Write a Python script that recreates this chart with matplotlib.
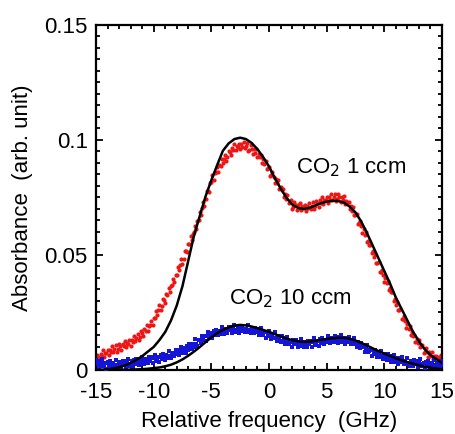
import numpy as np
import matplotlib
matplotlib.use("Agg")
import matplotlib.pyplot as plt

plt.rcParams['font.family'] = ['Liberation Sans', 'DejaVu Sans']
plt.rcParams['axes.unicode_minus'] = False

MILLI = 1e-3

# measured data, CO2 1 ccm (units of 1e-3), x = -15 .. 15 step 0.1
x_data = np.round(np.arange(-15.0, 15.0001, 0.1), 2)
red_data = [
    4.2, 6.7, 5.8, 4.2, 7.1, 6.2, 8.5, 5.7, 7.6, 7.2,
    8.6, 6.3, 8.8, 7.8, 10.3, 8.0, 9.3, 10.7, 7.7, 9.0,
    11.4, 10.4, 8.7, 11.5, 10.5, 12.8, 10.0, 11.9, 11.5, 12.9,
    10.5, 13.1, 12.2, 14.8, 12.6, 14.1, 15.7, 12.9, 14.4, 17.0,
    16.2, 14.7, 17.7, 16.9, 19.4, 16.8, 19.3, 19.5, 21.5, 19.7,
    22.7, 22.4, 25.6, 24.0, 26.1, 28.3, 25.9, 27.8, 30.8, 30.4,
    29.3, 32.9, 32.7, 35.8, 33.8, 36.5, 37.1, 39.5, 38.1, 41.5,
    41.4, 44.8, 43.4, 45.7, 48.1, 46.1, 48.4, 51.8, 51.8, 51.1,
    54.9, 54.9, 58.2, 56.4, 59.3, 59.9, 62.5, 61.3, 64.9, 65.0,
    68.6, 67.6, 70.3, 73.1, 71.5, 74.2, 77.8, 78.0, 77.5, 81.5,
    81.7, 84.8, 82.8, 85.5, 85.9, 88.1, 86.3, 89.3, 88.8, 91.8,
    90.0, 91.7, 93.5, 90.9, 92.6, 95.4, 94.7, 93.3, 96.4, 95.7,
    98.3, 95.5, 97.4, 97.0, 98.4, 96.0, 98.2, 96.9, 99.1, 96.5,
    97.6, 98.5, 95.0, 95.8, 97.7, 96.2, 93.9, 96.1, 94.5, 96.2,
    92.8, 93.9, 92.7, 93.3, 90.1, 91.7, 89.6, 91.0, 87.6, 87.9,
    88.3, 84.3, 84.6, 86.0, 84.0, 81.3, 83.1, 81.1, 82.4, 78.6,
    79.5, 78.1, 78.5, 75.1, 76.5, 74.4, 76.0, 72.8, 73.3, 73.9,
    70.1, 71.0, 73.0, 71.6, 69.5, 71.9, 70.6, 72.6, 69.5, 71.1,
    70.4, 71.7, 69.2, 71.5, 70.3, 72.6, 70.2, 71.5, 72.9, 69.9,
    71.2, 73.6, 72.6, 70.9, 73.7, 72.7, 75.0, 72.2, 74.1, 73.7,
    75.1, 72.7, 75.1, 74.0, 76.4, 74.0, 75.2, 76.4, 73.3, 74.4,
    76.6, 75.2, 73.0, 75.4, 73.9, 75.8, 72.3, 73.5, 72.4, 73.1,
    70.0, 71.4, 69.3, 70.7, 67.3, 67.6, 67.8, 63.6, 63.7, 64.9,
    62.7, 59.7, 61.2, 58.9, 59.9, 55.8, 56.3, 54.5, 54.5, 50.7,
    51.7, 49.3, 50.4, 46.7, 46.7, 46.8, 42.5, 42.5, 43.6, 41.3,
    38.3, 39.9, 37.7, 38.8, 34.8, 35.5, 33.7, 33.7, 29.9, 30.9,
    28.4, 29.6, 26.0, 26.1, 26.3, 22.1, 22.2, 23.4, 21.2, 18.3,
    19.9, 17.9, 19.2, 15.4, 16.3, 14.9, 15.4, 12.1, 13.6, 11.6,
    13.1, 9.9, 10.4, 11.0, 7.2, 7.7, 9.5, 7.9, 5.6, 7.8,
    6.2, 8.0, 4.7, 6.1, 5.2, 6.1, 3.5, 5.7, 4.4, 6.6,
    4.0,
]

# measured data, CO2 10 ccm (units of 1e-3)
blue_data = [
    4.3, 2.6, 3.8, 1.3, 3.0, 4.6, 1.6, 2.3, 3.2, 0.6,
    3.5, 1.8, 4.0, 2.5, 1.2, 2.9, 1.6, 4.4, 2.3, 1.0,
    3.3, 2.9, 1.4, 4.0, 2.3, 3.7, 1.2, 3.1, 4.7, 1.9,
    2.7, 3.7, 1.2, 4.2, 2.5, 4.8, 3.4, 2.2, 4.0, 2.8,
    5.7, 3.7, 2.5, 4.9, 4.5, 3.1, 5.7, 4.1, 5.5, 3.1,
    5.0, 6.7, 3.9, 4.8, 5.8, 3.4, 6.4, 4.8, 7.1, 5.7,
    4.5, 6.4, 5.2, 8.2, 6.2, 5.1, 7.6, 7.3, 5.9, 8.6,
    7.1, 8.6, 6.3, 8.3, 10.1, 7.4, 8.4, 9.5, 7.2, 10.3,
    8.8, 11.3, 10.1, 9.1, 11.1, 10.1, 13.3, 11.5, 10.6, 13.2,
    13.1, 11.9, 14.7, 13.2, 14.8, 12.6, 14.6, 16.5, 13.8, 14.9,
    16.0, 13.7, 16.8, 15.2, 17.6, 16.3, 15.1, 17.0, 15.8, 18.8,
    16.8, 15.6, 18.0, 17.6, 16.2, 18.8, 17.2, 18.5, 16.1, 17.9,
    19.6, 16.7, 17.5, 18.4, 15.9, 18.8, 17.1, 19.3, 17.8, 16.5,
    18.0, 16.6, 19.4, 17.2, 15.9, 18.1, 17.5, 15.9, 18.3, 16.5,
    17.7, 15.1, 16.7, 18.2, 15.1, 15.8, 16.5, 13.9, 16.6, 14.8,
    16.8, 15.1, 13.6, 15.2, 13.7, 16.3, 14.0, 12.5, 14.7, 14.0,
    12.3, 14.6, 12.8, 13.9, 11.3, 12.9, 14.4, 11.3, 12.0, 12.7,
    10.1, 12.9, 11.1, 13.2, 11.6, 10.2, 11.9, 10.5, 13.3, 11.1,
    9.8, 12.1, 11.7, 10.2, 12.8, 11.1, 12.5, 10.1, 12.0, 13.7,
    10.9, 11.8, 12.8, 10.4, 13.4, 11.8, 14.1, 12.7, 11.4, 13.2,
    12.0, 14.9, 12.8, 11.6, 13.9, 13.5, 12.0, 14.6, 12.9, 14.3,
    11.8, 13.6, 15.2, 12.2, 13.0, 13.9, 11.3, 14.1, 12.3, 14.4,
    12.8, 11.3, 12.8, 11.3, 13.9, 11.6, 10.0, 12.1, 11.3, 9.6,
    11.8, 9.8, 10.8, 8.0, 9.5, 10.8, 7.7, 8.2, 8.9, 6.1,
    8.8, 6.9, 8.9, 7.2, 5.7, 7.2, 5.7, 8.4, 6.1, 4.7,
    6.8, 6.1, 4.5, 6.8, 5.0, 6.1, 3.5, 5.2, 6.6, 3.6,
    4.3, 5.1, 2.4, 5.2, 3.4, 5.5, 3.9, 2.5, 4.1, 2.7,
    5.4, 3.2, 1.8, 4.1, 3.5, 1.9, 4.3, 2.6, 3.8, 1.3,
    3.0, 4.6, 1.6, 2.4, 3.2, 0.7, 3.6, 1.8, 4.0, 2.5,
    1.2, 2.9, 1.6, 4.4, 2.3, 0.9, 3.2, 2.7, 1.2, 3.7,
    2.0,
]

# fitted curves (units of 1e-3), x = -15 .. 15 step 0.5
x_fit = np.round(np.arange(-15.0, 15.0001, 0.5), 2)
red_fit = [
    0.0, 0.1, 0.3, 0.6, 1.2, 2.0, 3.0, 4.4, 6.0, 8.0,
    10.0, 13.0, 16.5, 21.5, 28.0, 36.5, 47.5, 58.5, 67.0, 75.5,
    82.5, 89.0, 95.3, 98.5, 100.4, 101.0, 100.4, 98.7, 96.0, 92.5,
    88.5, 83.5, 79.0, 75.0, 72.0, 70.5, 70.0, 70.5, 71.5, 72.5,
    73.2, 73.6, 73.5, 72.8, 71.0, 68.5, 64.5, 59.5, 54.0, 48.5,
    43.0, 37.5, 31.5, 26.5, 21.5, 16.5, 12.5, 9.0, 6.5, 4.8,
    3.0,
]
blue_fit = [
    0.0, 0.0, 0.0, 0.0, 0.05, 0.1, 0.15, 0.25, 0.35, 0.55,
    0.8, 1.1, 1.6, 2.3, 3.3, 4.6, 6.2, 8.0, 10.0, 12.1,
    14.2, 16.0, 17.4, 18.5, 19.3, 19.6, 19.4, 18.9, 18.2, 17.4,
    16.6, 15.6, 14.6, 13.7, 13.0, 12.5, 12.2, 12.3, 12.7, 13.1,
    13.5, 13.8, 14.0, 14.0, 13.6, 12.8, 11.8, 10.6, 9.4, 8.2,
    7.1, 6.1, 5.1, 4.2, 3.4, 2.7, 2.0, 1.5, 1.0, 0.6,
    0.3,
]

label_1 = "CO$_2$ 1 ccm"
label_10 = "CO$_2$ 10 ccm"
x_ticks = [-15, -10, -5, 0, 5, 10, 15]
y_ticks = [0, 0.05, 0.1, 0.15]
y_tick_labels = ["0", "0.05", "0.1", "0.15"]

FS = 16

fig = plt.figure(figsize=(4.56, 4.34), dpi=100)
ax = fig.add_axes([0.2105, 0.1475, 0.7588, 0.7949])

ax.scatter(x_data, np.array(red_data) * MILLI, s=9, marker='o', color='#ee1515',
           linewidths=0, zorder=2)
ax.scatter(x_data, np.array(blue_data) * MILLI, s=9, marker='s', color='#1515d8',
           linewidths=0, zorder=3)
ax.plot(x_fit, np.array(red_fit) * MILLI, color='black', lw=1.8, zorder=4)
ax.plot(x_fit, np.array(blue_fit) * MILLI, color='black', lw=1.8, zorder=4)

ax.set_xlim(-15, 15)
ax.set_ylim(0, 0.15)
ax.set_xticks(x_ticks)
ax.set_xticklabels([str(t) for t in x_ticks])
ax.set_yticks(y_ticks)
ax.set_yticklabels(y_tick_labels)
ax.set_xticks(np.arange(-15, 15.01, 1), minor=True)
ax.set_yticks(np.arange(0, 0.1501, 0.005), minor=True)
ax.tick_params(which='both', direction='in', top=True, right=True, labelsize=FS,
               width=1.3)
ax.tick_params(which='major', length=5)
ax.tick_params(which='minor', length=2.7)
ax.tick_params(axis='x', pad=9)
ax.tick_params(axis='y', pad=6)
for sp in ax.spines.values():
    sp.set_linewidth(1.6)

ax.set_xlabel("Relative frequency  (GHz)", fontsize=FS)
ax.set_ylabel("Absorbance  (arb. unit)", fontsize=FS)
ax.xaxis.set_label_coords(0.5, -0.12)
ax.yaxis.set_label_coords(-0.182, 0.5)

ax.text(2.3, 0.0878, label_1, fontsize=FS, va='center', ha='left')
ax.text(-3.5, 0.0309, label_10, fontsize=FS, va='center', ha='left')

fig.savefig("out.png", dpi=100)
